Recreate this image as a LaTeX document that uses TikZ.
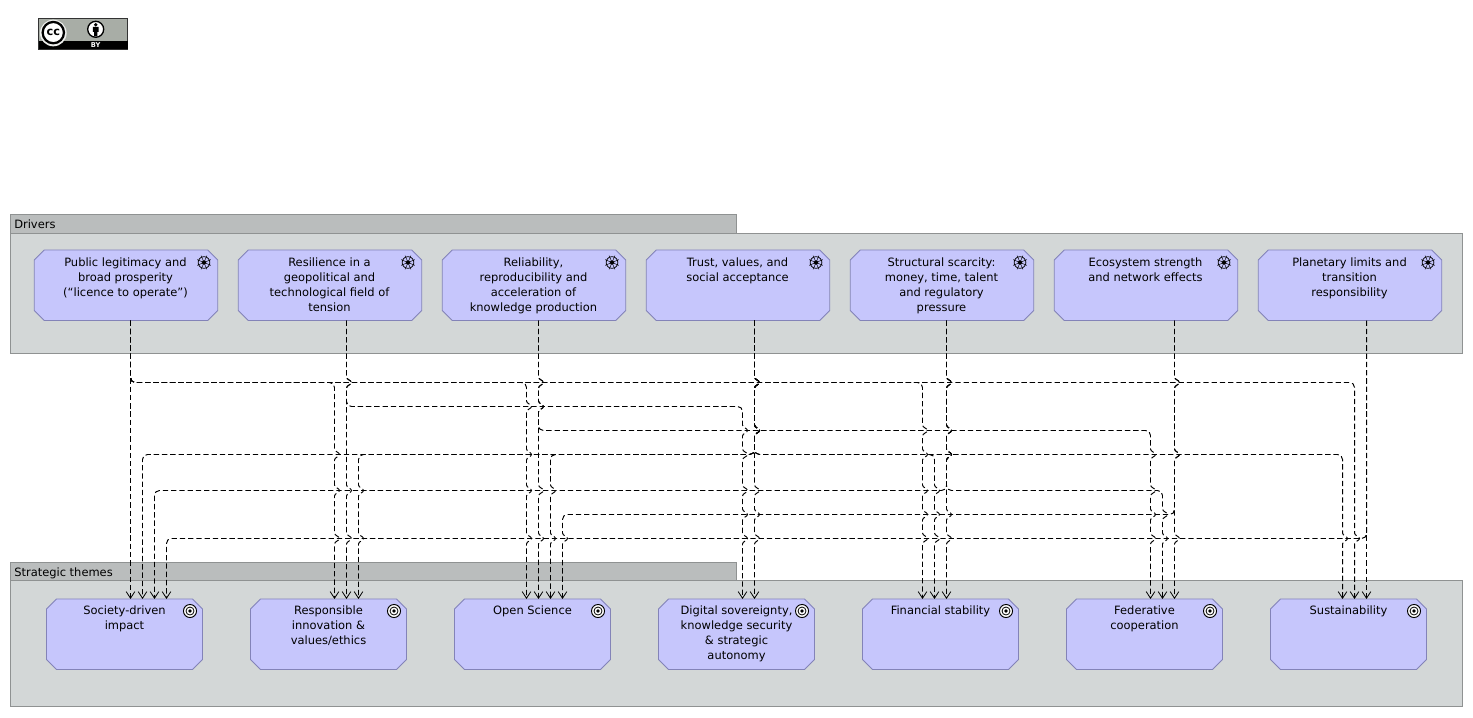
\documentclass[tikz,border=0pt]{standalone}
\usepackage{fontspec}
\setmainfont{DejaVu Sans}
\usetikzlibrary{arrows.meta}
\definecolor{grpfill}{HTML}{D3D7D7}
\definecolor{tabfill}{HTML}{BABDBD}
\definecolor{grpline}{HTML}{8F9292}
\definecolor{boxfill}{HTML}{C6C6FC}
\definecolor{boxline}{HTML}{8383B8}
\definecolor{badge}{HTML}{A8ADA6}
\tikzset{
  grp/.style={draw=grpline,fill=grpfill,line width=.75pt},
  grptab/.style={draw=grpline,fill=tabfill,line width=.75pt},
  grplabel/.style={font=\fontsize{8.6}{11}\selectfont,anchor=west,inner sep=0pt},
  elem/.style={rectangle,inner sep=0pt,outer sep=0pt,minimum height=52.9pt},
  elemshape/.style={draw=boxline,fill=boxfill,line width=.6pt},
  driver/.style={elem,minimum width=137.6pt},
  theme/.style={elem,minimum width=117pt},
  lbl/.style={font=\fontsize{8.6}{11.25}\selectfont,align=center,anchor=north,inner sep=0pt},
  dep/.style={draw=black,line width=.72pt,dash pattern=on 4pt off 2.2pt,-{Straight Barb[length=5pt,width=6.5pt,line width=.6pt]}},
  wheel/.pic={
    \draw[line width=.55pt] (0,0) circle[radius=4.4pt];
    \foreach \a in {22.5,67.5,...,337.5}{\draw[line width=.35pt] (0,0) -- (\a:5.6pt);}
    \fill (0,0) circle[radius=1.6pt];
  },
  target/.pic={
    \draw[line width=.7pt,fill=white] (0,0) circle[radius=4.9pt];
    \draw[line width=.6pt,fill=white] (0,0) circle[radius=3pt];
    \fill (0,0) circle[radius=1.4pt];
  }
}
% crossing jump on a vertical run
\newcommand\J[2]{-- (#1,#2-5.5) .. controls (#1,#2-3) and (#1+5,#2-2) .. (#1+5,#2) .. controls (#1+5,#2+2) and (#1,#2+3) .. (#1,#2+5.5) }
% connector from source #1 at x=#2 with jumps #3, along level #4 to x=#5 (direction #8 = 1 right, -1 left), jumps #6, into target #7
\newcommand\conn[8]{\draw[dep] (#1.south -| #2,0) #3
  -- (#2,#4-5) .. controls (#2,#4-2) and (#2+2*#8,#4) .. (#2+5*#8,#4)
  -- (#5-5*#8,#4) .. controls (#5-2*#8,#4) and (#5,#4+2) .. (#5,#4+5)
  #6 -- (#7.north -| #5,0);}
\newcommand\straight[4]{\draw[dep] (#1.south -| #2,0) #3 -- (#4.north -| #2,0);}
\newcommand\chamf[1]{\draw[elemshape] ([xshift=7.5pt]#1.north west) -- ([xshift=-7.5pt]#1.north east)
  -- ([yshift=-7.5pt]#1.north east) -- ([yshift=7.5pt]#1.south east) -- ([xshift=-7.5pt]#1.south east)
  -- ([xshift=7.5pt]#1.south west) -- ([yshift=7.5pt]#1.south west) -- ([yshift=-7.5pt]#1.north west) -- cycle;}
\newcommand\drv[3]{\node[driver] (#1) at (#2,285.25) {}; \chamf{#1}
  \node[lbl] (#1t) at (#2-0.5,258) {#3};
  \pic at (#2+78,262.5) {wheel};}
\newcommand\thm[3]{\node[theme] (#1) at (#2+0.5,634.25) {}; \chamf{#1}
  \node[lbl] (#1t) at (#2+0.5,606) {#3};
  \pic at (#2+66,611) {target};}
\def\La{382}\def\Lb{406}\def\Lc{430}\def\Ld{454}\def\Le{490}\def\Lf{514}\def\Lg{538}
\begin{document}
\begin{tikzpicture}[x=.75pt,y=-.75pt]
\useasboundingbox (0,0) rectangle (1473,717);
% licence badge
\draw[fill=badge,draw=black!80,line width=.75pt] (38.5,18.5) rectangle (127.5,49.5);
\fill[black] (38.5,41.3) rectangle (127.5,49.5);
\fill[white!80!badge] (53.3,33) circle[radius=10pt];
\draw[fill=white,draw=black,line width=1.7pt] (53.3,32.6) circle[radius=8pt];
\node[font=\fontsize{8.5}{9}\bfseries\selectfont,inner sep=0pt] (cc) at (53.3,32.2) {cc};
\draw[fill=white,draw=black,line width=1pt] (95.7,29.3) circle[radius=6pt];
\fill (95.7,24.8) circle[radius=1.4pt];
\fill (92.8,26.8) rectangle (98.6,32) (94,32) rectangle (97.4,36.5);
\node[font=\fontsize{5}{6}\bfseries\selectfont,text=white,inner sep=0pt] (by) at (95.7,45.5) {BY};
% groups
\draw[grptab] (10.5,214.5) rectangle (736.5,233);
\draw[grp] (10.5,233) rectangle (1462,353.5);
\node[grplabel] (gd) at (14,224.7) {Drivers};
\draw[grptab] (10.5,562.7) rectangle (736.5,580.5);
\draw[grp] (10.5,580.5) rectangle (1462,706.5);
\node[grplabel] (gt) at (14,572.9) {Strategic themes};
% drivers
\drv{da}{126}{Public legitimacy and\\broad prosperity\\(``licence to operate'')}
\drv{db}{330}{Resilience in a\\geopolitical and\\technological field of\\tension}
\drv{dc}{534}{Reliability,\\reproducibility and\\acceleration of\\knowledge production}
\drv{dd}{738}{Trust, values, and\\social acceptance}
\drv{de}{942}{Structural scarcity:\\money, time, talent\\and regulatory\\pressure}
\drv{df}{1146}{Ecosystem strength\\and network effects}
\drv{dg}{1350}{Planetary limits and\\transition\\responsibility}
% themes
\thm{ta}{124}{Society-driven\\impact}
\thm{tb}{328}{Responsible\\innovation \&\\values/ethics}
\thm{tc}{532}{Open Science}
\thm{td}{736}{Digital sovereignty,\\knowledge security\\\& strategic\\autonomy}
\thm{te}{940}{Financial stability}
\thm{tf}{1144}{Federative\\cooperation}
\thm{tg}{1348}{Sustainability}
\begin{scope}[shift={(0.5,0.5)}]
% Public legitimacy
\straight{da}{130}{}{ta}
\conn{da}{130}{}{\La}{334}{\J{334}{\Ld}\J{334}{\Le}\J{334}{\Lg}}{tb}{1}
\conn{da}{130}{}{\La}{526}{\J{526}{\Lb}\J{526}{\Ld}\J{526}{\Le}\J{526}{\Lg}}{tc}{1}
\conn{da}{130}{}{\La}{922}{\J{922}{\Lc}\J{922}{\Ld}\J{922}{\Le}\J{922}{\Lf}\J{922}{\Lg}}{te}{1}
\conn{da}{130}{}{\La}{1354}{\J{1354}{\Lg}}{tg}{1}
% Resilience
\straight{db}{346}{\J{346}{\La}\J{346}{\Le}\J{346}{\Lg}}{tb}
\conn{db}{346}{\J{346}{\La}}{\Lb}{742}{\J{742}{\Lc}\J{742}{\Ld}\J{742}{\Le}\J{742}{\Lf}\J{742}{\Lg}}{td}{1}
% Reliability
\straight{dc}{538}{\J{538}{\La}\J{538}{\Lb}\J{538}{\Le}\J{538}{\Lg}}{tc}
\conn{dc}{538}{\J{538}{\La}\J{538}{\Lb}}{\Lc}{1150}{\J{1150}{\Ld}\J{1150}{\Le}\J{1150}{\Lf}\J{1150}{\Lg}}{tf}{1}
% Trust
\straight{dd}{754}{\J{754}{\La}\J{754}{\Lc}\J{754}{\Le}\J{754}{\Lf}\J{754}{\Lg}}{td}
\conn{dd}{754}{\J{754}{\La}\J{754}{\Lc}}{\Ld}{142}{}{ta}{-1}
\conn{dd}{754}{\J{754}{\La}\J{754}{\Lc}}{\Ld}{358}{\J{358}{\Le}\J{358}{\Lg}}{tb}{-1}
\conn{dd}{754}{\J{754}{\La}\J{754}{\Lc}}{\Ld}{550}{\J{550}{\Le}\J{550}{\Lg}}{tc}{-1}
\conn{dd}{754}{\J{754}{\La}\J{754}{\Lc}}{\Ld}{934}{\J{934}{\Le}\J{934}{\Lf}\J{934}{\Lg}}{te}{1}
\conn{dd}{754}{\J{754}{\La}\J{754}{\Lc}}{\Ld}{1342}{\J{1342}{\Lg}}{tg}{1}
% Scarcity
\straight{de}{946}{\J{946}{\La}\J{946}{\Lc}\J{946}{\Ld}\J{946}{\Lf}\J{946}{\Lg}}{te}
\conn{de}{946}{\J{946}{\La}\J{946}{\Lc}\J{946}{\Ld}}{\Le}{154}{}{ta}{-1}
\conn{de}{946}{\J{946}{\La}\J{946}{\Lc}\J{946}{\Ld}}{\Le}{1162}{\J{1162}{\Lf}\J{1162}{\Lg}}{tf}{1}
% Ecosystem
\straight{df}{1174}{\J{1174}{\La}\J{1174}{\Ld}\J{1174}{\Lg}}{tf}
\conn{df}{1174}{\J{1174}{\La}\J{1174}{\Ld}}{\Lf}{562}{\J{562}{\Lg}}{tc}{-1}
% Planetary
\straight{dg}{1366}{}{tg}
\conn{dg}{1366}{}{\Lg}{166}{}{ta}{-1}
\end{scope}
\end{tikzpicture}
\end{document}
